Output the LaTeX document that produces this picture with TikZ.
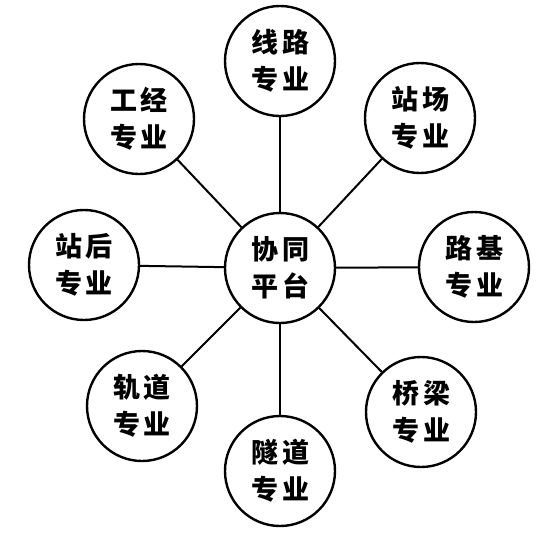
\documentclass[tikz,border=0pt]{standalone}
\usepackage{fontspec}
\newfontfamily\cjk{Noto Sans CJK SC}
\begin{document}
\begin{tikzpicture}[x=1pt,y=-1pt,
  zy/.style={circle,draw,line width=2.4pt,minimum size=110pt,inner sep=0pt,
    align=center,font=\cjk\bfseries\fontsize{27}{37}\selectfont},
  lian/.style={line width=2pt}]
\useasboundingbox (0,0) rectangle (556,536);

\node[zy] (pt) at (280,268) {协\hspace{4pt}同\\平\hspace{4pt}台};

\node[zy] (xl) at (280,61) {线\hspace{4pt}路\\专\hspace{4pt}业};
\node[zy] (zc) at (420,118) {站\hspace{4pt}场\\专\hspace{4pt}业};
\node[zy] (lj) at (474,267) {路\hspace{4pt}基\\专\hspace{4pt}业};
\node[zy] (ql) at (421,412) {桥\hspace{4pt}梁\\专\hspace{4pt}业};
\node[zy] (sd) at (280,471) {隧\hspace{4pt}道\\专\hspace{4pt}业};
\node[zy] (gd) at (142,406) {轨\hspace{4pt}道\\专\hspace{4pt}业};
\node[zy] (zh) at (84,265) {站\hspace{4pt}后\\专\hspace{4pt}业};
\node[zy] (gj) at (139,119) {工\hspace{4pt}经\\专\hspace{4pt}业};

\draw[lian] (pt) -- (xl);
\draw[lian] (pt) -- (zc);
\draw[lian] (pt) -- (lj);
\draw[lian] (pt) -- (ql);
\draw[lian] (pt) -- (sd);
\draw[lian] (pt) -- (gd);
\draw[lian] (pt) -- (zh);
\draw[lian] (pt) -- (gj);

\end{tikzpicture}
\end{document}
